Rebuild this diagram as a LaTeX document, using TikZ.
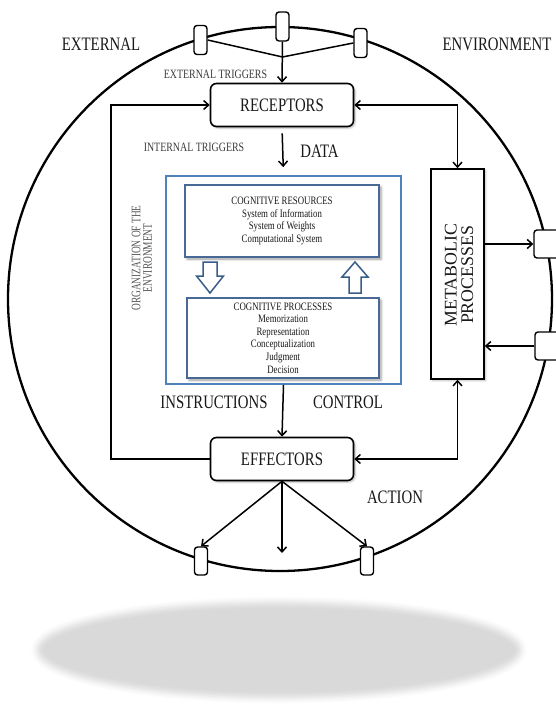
\documentclass[tikz,border=0pt]{standalone}
\usepackage{fontspec}
\setmainfont{Liberation Serif}
\newfontfamily\nserif{Liberation Serif}[FakeStretch=0.78]
\newfontfamily\tserif{Liberation Serif}[FakeStretch=0.72]
\usetikzlibrary{arrows.meta,shadows.blur}

\definecolor{inkc}{RGB}{25,25,25}
\definecolor{bluebox}{RGB}{79,129,189}
\definecolor{cogline}{RGB}{72,104,150}
\definecolor{arrowline}{RGB}{56,93,138}

\begin{document}
\begin{tikzpicture}[x=1bp,y=-1bp,
  wire/.style={line width=1.5bp, draw=black},
  arr/.style={-{Straight Barb[length=5bp,width=9bp]}},
  both/.style={{Straight Barb[length=5bp,width=9bp]}-{Straight Barb[length=5bp,width=9bp]}},
  portbox/.style={draw, fill=white, line width=1.4bp, rounded corners=3bp,
    minimum width=13bp, minimum height=29bp, inner sep=0pt},
  sideport/.style={portbox, minimum width=28bp, minimum height=28bp},
  softshadow/.style={blur shadow={shadow xshift=1.5bp, shadow yshift=-1.5bp,
    shadow blur radius=2bp, shadow opacity=30}},
  unitbox/.style={draw, fill=white, line width=1.6bp, rounded corners=6bp,
    minimum width=143bp, minimum height=43bp, inner sep=0pt, softshadow,
    font=\nserif\fontsize{19bp}{22bp}\selectfont, text=inkc},
  biglabel/.style={font=\nserif\fontsize{19bp}{22bp}\selectfont, text=inkc, inner sep=0pt},
  smalllabel/.style={font=\nserif\fontsize{12.7bp}{14bp}\selectfont, text=inkc!85, inner sep=0pt},
  cogbox/.style={draw=cogline, fill=white, line width=1.8bp, inner sep=0pt, align=center,
    blur shadow={shadow xshift=2bp, shadow yshift=-2bp, shadow blur radius=2.5bp, shadow opacity=40},
    font=\nserif\fontsize{11.3bp}{12.6bp}\selectfont, text=inkc},
  hollow/.style={draw=arrowline, fill=white, line width=1.5bp, line join=miter}
]
\useasboundingbox (0,0) rectangle (556,704);

% soft floor shadow under the sphere
\path[blur shadow={shadow xshift=0bp, shadow yshift=0bp, shadow blur radius=6bp, shadow opacity=15}]
  (279,650) ellipse [x radius=242, y radius=48];

% boundary of the organism
\draw[line width=2.3bp] (280,299) circle [radius=272];

% ports on the boundary
\node[portbox] (t1) at (200.5,40) {};
\node[portbox] (t2) at (282.5,26.5) {};
\node[portbox] (t3) at (360.5,43) {};
\node[portbox, minimum height=28bp] (b1) at (201,561) {};
\node[portbox, minimum height=28bp] (b2) at (367,561) {};
\node[sideport] (r1) at (548,244) {};
\node[sideport] (r2) at (549,346) {};

% main units
\node[unitbox] (rec) at (282,105) {RECEPTORS};
\node[unitbox] (eff) at (282,459) {EFFECTORS};
\node[draw, fill=white, line width=1.6bp, minimum width=53bp, minimum height=210bp,
  inner sep=0pt, softshadow] (met) at (457.5,274) {};
\node[rotate=90, align=center, inner sep=0pt, text=inkc,
  font=\fontsize{17.8bp}{16.5bp}\selectfont] (metlbl) at (459,275) {METABOLIC\\PROCESSES};

% cognitive core
\node[draw=bluebox, line width=1.8bp, minimum width=235bp, minimum height=208bp,
  inner sep=0pt] (cog) at (283.5,280) {};
\node[cogbox, minimum width=194bp, minimum height=72bp] (res) at (282,221)
  {COGNITIVE RESOURCES\\System of Information\\System of Weights\\Computational System};
\node[cogbox, minimum width=192bp, minimum height=80bp] (proc) at (283,338)
  {COGNITIVE PROCESSES\\Memorization\\Representation\\Conceptualization\\Judgment\\Decision};

% exchange arrows between resources and processes
\draw[hollow] (203,262) -- (217,262) -- (217,276) -- (223.5,276) -- (210,293)
  -- (196.5,276) -- (203,276) -- cycle;
\draw[hollow] (355,262) -- (368,277) -- (361,277) -- (361,293) -- (349,293)
  -- (349,277) -- (342,277) -- cycle;

% labels
\node[biglabel] (lext) at (101,44) {EXTERNAL};
\node[biglabel] (lenv) at (497,44) {ENVIRONMENT};
\node[smalllabel] (lextt) at (215.5,74) {EXTERNAL TRIGGERS};
\node[smalllabel] (lintt) at (194,147) {INTERNAL TRIGGERS};
\node[biglabel] (ldata) at (319.5,151) {DATA};
\node[biglabel] (linst) at (214,402) {INSTRUCTIONS};
\node[biglabel] (lctrl) at (348,402) {CONTROL};
\node[biglabel] (lact) at (395,497) {ACTION};
\node[rotate=90, align=center, inner sep=0pt, text=inkc!75,
  font=\tserif\fontsize{13bp}{11.5bp}\selectfont] (lorg) at (142,258)
  {ORGANIZATION OF THE\\ENVIRONMENT};

% connectors
\coordinate (J) at (282.5,57);
\draw[wire] (t1.east) -- (J) -- (t3.west);
\draw[wire, arr] (t2.south) -- (rec.north);
\draw[wire, arr, shorten <=6bp, shorten >=8bp] (rec.south) -- (cog.north);
\draw[wire, arr] (cog.south) -- (eff.north);
\coordinate (lc) at (111,459);
\draw[wire, arr] (eff.west) -- (lc) |- (rec.west);
\draw[wire, both] (rec.east) -| (met.north);
\draw[wire, both] (eff.east) -| (met.south);
\draw[wire, arr] (met.east |- r1) -- (r1.west);
\draw[wire, arr] (r2.west) -- (met.east |- r2);
\coordinate (bd) at (282,553);
\draw[wire, arr] (eff.south) -- (b1.north);
\draw[wire, arr] (eff.south) -- (b2.north);
\draw[wire, arr] (eff.south) -- (bd);
\end{tikzpicture}
\end{document}
